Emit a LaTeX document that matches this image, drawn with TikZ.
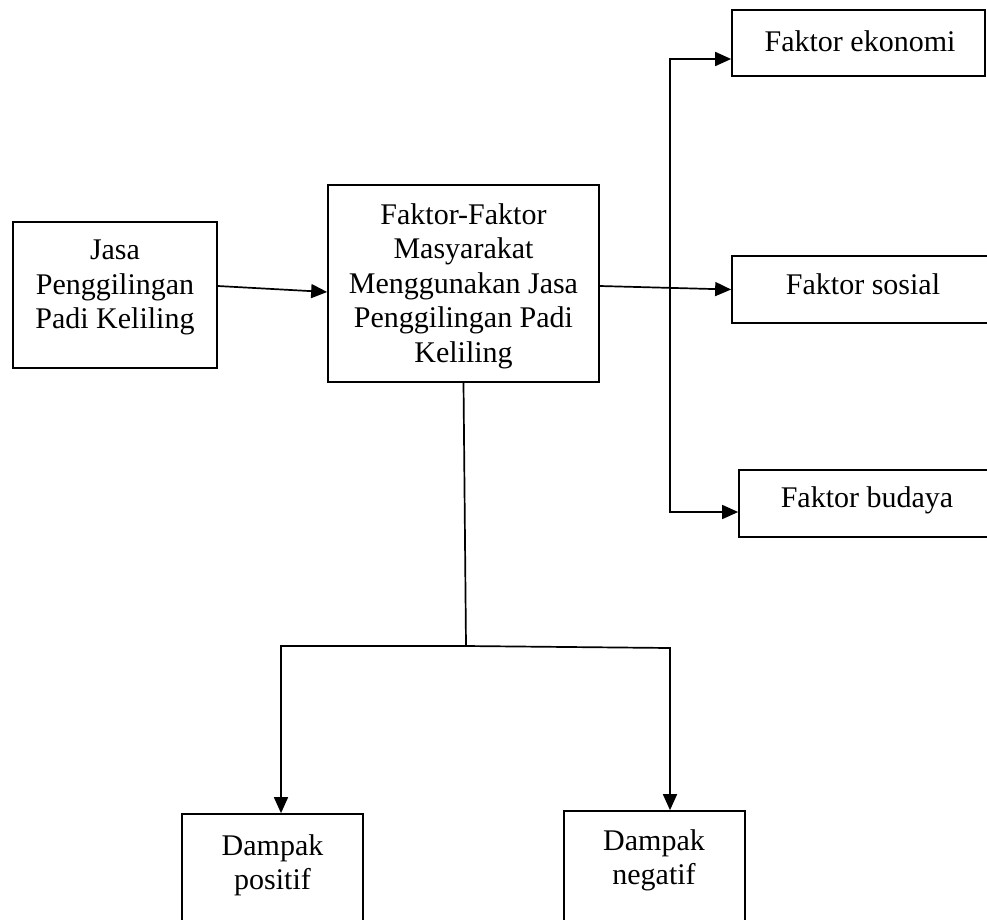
\documentclass[tikz,border=0pt]{standalone}
\usepackage{fontspec}
\setmainfont{Liberation Serif}
\usetikzlibrary{arrows.meta}
\begin{document}
\begin{tikzpicture}[x=1pt,y=-1pt,
  bx/.style={draw, line width=1.7pt, inner sep=0pt, fill=white},
  txt/.style={inner sep=0pt, align=center, font=\fontsize{30}{34.5}\selectfont},
  ln/.style={line width=1.7pt},
  arr/.style={line width=1.7pt, -{Triangle[length=16pt,width=14pt]}}]
\useasboundingbox (0,0) rectangle (987,919);
\fill[white] (0,0) rectangle (987,919);
\clip (0,0) rectangle (987,919);
% boxes
\node[bx, minimum width=204pt, minimum height=146pt] (jasa) at (115,295) {};
\node[bx, minimum width=271pt, minimum height=197pt] (faktor) at (463.5,283.5) {};
\node[bx, minimum width=253pt, minimum height=66pt] (eko) at (858.5,43) {};
\node[bx, minimum width=262pt, minimum height=67pt] (sos) at (863,289.5) {};
\node[bx, minimum width=256pt, minimum height=67pt] (bud) at (867,503.5) {};
\node[bx, minimum width=181pt, minimum height=150pt] (pos) at (272.5,889) {};
\node[bx, minimum width=181pt, minimum height=150pt] (neg) at (654.5,886) {};
% texts
\node[txt, anchor=north] (jasat) at (115,240) {Jasa\\Penggilingan\\Padi Keliling};
\node[txt, anchor=north] (faktort) at (463.5,203) {Faktor-Faktor\\Masyarakat\\Menggunakan Jasa\\Penggilingan Padi\\Keliling};
\node[txt, anchor=base] (ekot) at (860,51) {Faktor ekonomi};
\node[txt, anchor=base] (sost) at (863,294) {Faktor sosial};
\node[txt, anchor=base] (budt) at (867,507) {Faktor budaya};
\node[txt, anchor=north] (post) at (272.5,834) {Dampak\\positif};
\node[txt, anchor=north] (negt) at (654,829) {Dampak\\negatif};
% connectors
\draw[arr] ([yshift=9pt]jasa.east) -- ([yshift=-8.5pt]faktor.west);
\draw[arr] ([yshift=-2.5pt]faktor.east) -- (sos.west);
\coordinate (vtop) at (670,59);
\coordinate (vbot) at (670,512);
\draw[arr] (vbot) -- (vtop) -- ([yshift=-16pt]eko.west);
\draw[arr] (vtop) -- (vbot) -- ([yshift=-8.5pt]bud.west);
\coordinate (jn) at (466,646);
\coordinate (jl) at (281,646);
\coordinate (jr) at (670,648);
\draw[ln] (faktor.south) -- (jn);
\draw[arr] (jn) -- (jl) -- (jl |- pos.north);
\draw[arr] (jn) -- (jr) -- (jr |- neg.north);
\end{tikzpicture}
\end{document}
